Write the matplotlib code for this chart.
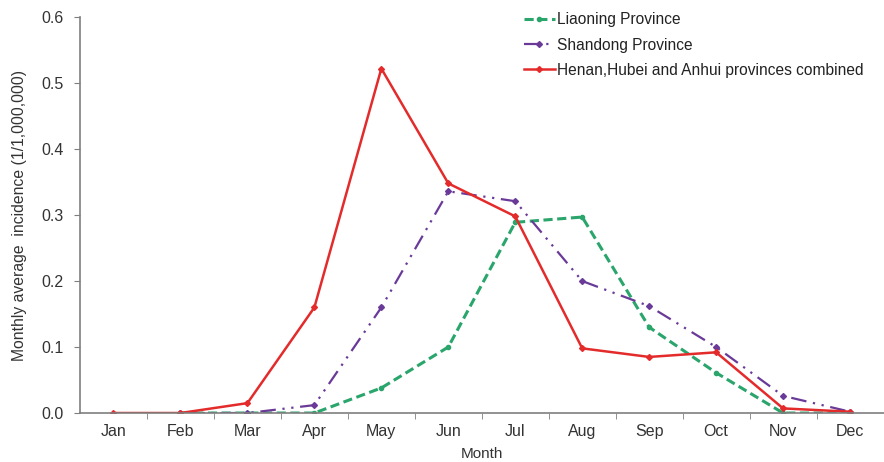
import matplotlib.pyplot as plt
import numpy as np

plt.rcParams['font.family'] = ['Liberation Sans', 'DejaVu Sans']

months = ['Jan', 'Feb', 'Mar', 'Apr', 'May', 'Jun', 'Jul', 'Aug', 'Sep', 'Oct', 'Nov', 'Dec']
liaoning = [np.nan, 0.0, 0.0, 0.0, 0.038, 0.100, 0.289, 0.297, 0.130, 0.061, 0.0, 0.0]
shandong = [np.nan, 0.0, 0.0, 0.012, 0.160, 0.336, 0.321, 0.200, 0.162, 0.100, 0.026, 0.002]
henan = [0.0, 0.0, 0.015, 0.160, 0.522, 0.348, 0.298, 0.098, 0.085, 0.092, 0.007, 0.002]

x = np.arange(len(months))
axis_col = '#7f7f7f'
txt_col = '#333333'

fig = plt.figure(figsize=(8.84, 4.62), dpi=100)
ax = fig.add_axes([0.0905, 0.106, 0.909, 0.857])

ax.plot(x, liaoning, color='#2aa56c', lw=2.2, ls=(0, (3, 1.5)), marker='o', ms=3,
        label='Liaoning Province')
ax.plot(x, shandong, color='#6a3a98', lw=1.6, ls=(0, (7, 3, 1, 3, 1, 3)), marker='D', ms=3,
        label='Shandong Province')
ax.plot(x, henan, color='#e42b2b', lw=1.8, marker='D', ms=3,
        label='Henan,Hubei and Anhui provinces combined')

ax.set_xlim(-0.5, 11.5)
ax.set_ylim(0, 0.6)
ax.set_yticks(np.arange(0, 0.61, 0.1))
ax.set_yticklabels([f'{v:.1f}' for v in np.arange(0, 0.61, 0.1)])
ax.set_xticks(x)
ax.set_xticklabels(months)
ax.set_xticks(np.arange(0.5, 11, 1), minor=True)
ax.tick_params(axis='x', which='major', length=0, pad=8, labelsize=11.5, colors=txt_col)
ax.tick_params(axis='x', which='minor', length=4, color=axis_col)
ax.tick_params(axis='y', length=4, color=axis_col, labelsize=11.5, labelcolor=txt_col, pad=8)

for s in ['top', 'right']:
    ax.spines[s].set_visible(False)
for s in ['left', 'bottom']:
    ax.spines[s].set_color(axis_col)
    ax.spines[s].set_linewidth(1.2)

ax.set_xlabel('Month', fontsize=11, color=txt_col, labelpad=6)
ax.set_ylabel('Monthly average  incidence (1/1,000,000)', fontsize=11.3, color=txt_col, labelpad=10)

ax.legend(loc='upper left', bbox_to_anchor=(0.535, 1.047), frameon=False, fontsize=11.2,
          handlelength=2.0, handletextpad=0.1, labelspacing=0.65, labelcolor='#222222')

fig.savefig('out.png', dpi=100)
